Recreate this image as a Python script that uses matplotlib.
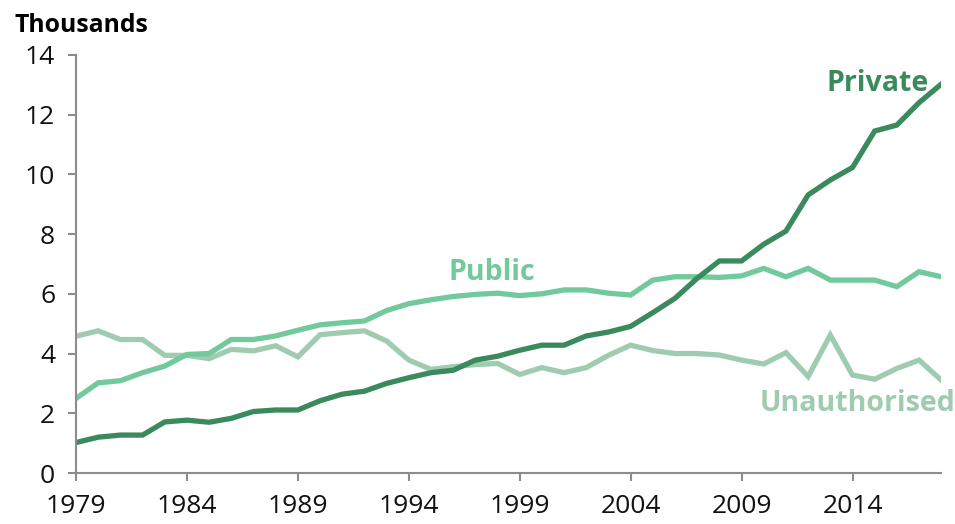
import matplotlib
matplotlib.use("Agg")
from matplotlib import pyplot as plt

plt.rcParams['font.family'] = ['Open Sans', 'DejaVu Sans']

years = list(range(1979, 2019))

private = [1.02, 1.2, 1.27, 1.27, 1.71, 1.77, 1.7, 1.83, 2.06, 2.11,
           2.11, 2.42, 2.64, 2.74, 3.0, 3.19, 3.36, 3.44, 3.78, 3.91,
           4.11, 4.28, 4.28, 4.59, 4.72, 4.91, 5.37, 5.85, 6.52, 7.1,
           7.1, 7.66, 8.1, 9.31, 9.81, 10.23, 11.45, 11.65, 12.4, 13.02]

public = [2.5, 3.02, 3.09, 3.36, 3.58, 3.97, 4.0, 4.47, 4.47, 4.59,
          4.78, 4.96, 5.03, 5.09, 5.44, 5.67, 5.8, 5.91, 5.98, 6.02,
          5.94, 6.0, 6.13, 6.13, 6.02, 5.96, 6.46, 6.57, 6.57, 6.55,
          6.6, 6.85, 6.57, 6.85, 6.46, 6.46, 6.46, 6.24, 6.74, 6.57]

unauthorised = [4.58, 4.76, 4.47, 4.47, 3.94, 3.94, 3.83, 4.14, 4.09, 4.26,
                3.89, 4.63, 4.7, 4.76, 4.42, 3.78, 3.47, 3.56, 3.63, 3.67,
                3.3, 3.53, 3.36, 3.53, 3.94, 4.28, 4.1, 4.0, 4.0, 3.95,
                3.78, 3.65, 4.03, 3.23, 4.62, 3.28, 3.14, 3.5, 3.78, 3.11]

xticks = [1979, 1984, 1989, 1994, 1999, 2004, 2009, 2014]
yticks = [0, 2, 4, 6, 8, 10, 12, 14]

c_private = '#3a8a5e'
c_public = '#72c99b'
c_unauth = '#9fcbb1'


def main():
    fig = plt.figure(figsize=(9.55, 5.24), dpi=100)
    ax = fig.add_axes([0.0796, 0.0973, 0.906, 0.798])

    ax.plot(years, unauthorised, color=c_unauth, lw=3.8, solid_joinstyle='miter')
    ax.plot(years, public, color=c_public, lw=3.8, solid_joinstyle='miter')
    ax.plot(years, private, color=c_private, lw=3.8, solid_joinstyle='miter')

    ax.set_xlim(1979, 2018)
    ax.set_ylim(0, 14)
    ax.set_xticks(xticks)
    ax.set_yticks(yticks)

    for s in ['top', 'right']:
        ax.spines[s].set_visible(False)
    for s in ['left', 'bottom']:
        ax.spines[s].set_color('#8c8c8c')
        ax.spines[s].set_linewidth(1.5)
    ax.tick_params(colors='#8c8c8c', width=1.5, length=6, labelsize=19,
                   labelcolor='#111111', pad=9)

    ax.text(2017.45, 13.05, 'Private', color=c_private, fontsize=20.5,
            fontweight='bold', ha='right', va='center')
    ax.text(1997.75, 6.7, 'Public', color=c_public, fontsize=20.5,
            fontweight='bold', ha='center', va='center')
    ax.text(2018.65, 2.34, 'Unauthorised', color=c_unauth, fontsize=20.5,
            fontweight='bold', ha='right', va='center')

    fig.text(14 / 955, 1 - 25 / 524, 'Thousands', fontsize=17.8,
             fontweight='bold', ha='left', va='center')

    fig.savefig('out.png', dpi=100)


if __name__ == '__main__':
    main()
